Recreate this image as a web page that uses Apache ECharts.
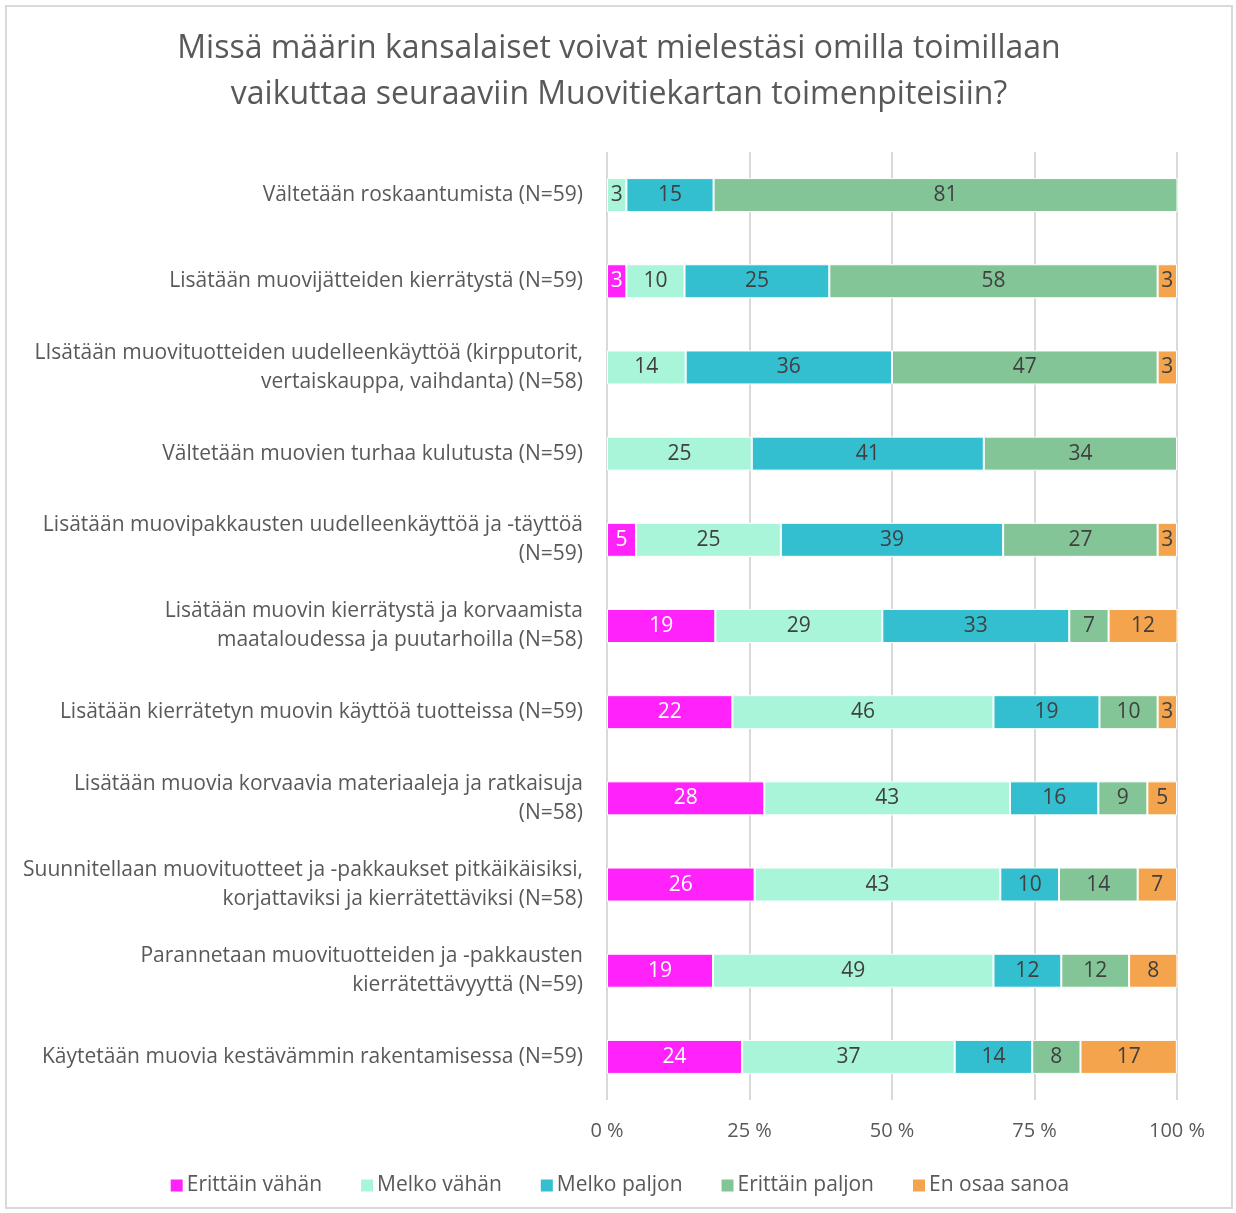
<!DOCTYPE html>
<html>
<head>
<meta charset="utf-8">
<script src="https://cdn.jsdelivr.net/npm/echarts@6/dist/echarts.min.js"></script>
<style>
  html, body { margin: 0; padding: 0; background: #fff; }
  #chartDiv { position: absolute; left: 5px; top: 5px; width: 1228px; height: 1204px; border: 2px solid #d9d9d9; box-sizing: border-box; }
</style>
</head>
<body>
<div id="chartDiv"></div>
<script type="text/javascript">
  // questions, top to bottom
  var categories = [
    "Vältetään roskaantumista (N=59)",
    "Lisätään muovijätteiden kierrätystä (N=59)",
    "LIsätään muovituotteiden uudelleenkäyttöä (kirpputorit,\nvertaiskauppa, vaihdanta) (N=58)",
    "Vältetään muovien turhaa kulutusta (N=59)",
    "Lisätään muovipakkausten uudelleenkäyttöä ja -täyttöä\n(N=59)",
    "Lisätään muovin kierrätystä ja korvaamista\nmaataloudessa ja puutarhoilla (N=58)",
    "Lisätään kierrätetyn muovin käyttöä tuotteissa (N=59)",
    "Lisätään muovia korvaavia materiaaleja ja ratkaisuja\n(N=58)",
    "Suunnitellaan muovituotteet ja -pakkaukset pitkäikäisiksi,\nkorjattaviksi ja kierrätettäviksi (N=58)",
    "Parannetaan muovituotteiden ja -pakkausten\nkierrätettävyyttä (N=59)",
    "Käytetään muovia kestävämmin rakentamisessa (N=59)"
  ];

  // shares in percent (labels show them rounded)
  var erittainVahan = [null, 3.4, null, null, 5.1, 19.0, 22.0, 27.6, 25.9, 18.6, 23.7];
  var melkoVahan    = [3.4, 10.2, 13.8, 25.4, 25.4, 29.3, 45.8, 43.1, 43.1, 49.2, 37.3];
  var melkoPaljon   = [15.3, 25.4, 36.2, 40.7, 39.0, 32.8, 18.6, 15.5, 10.3, 11.9, 13.6];
  var erittainPaljon = [81.4, 57.6, 46.6, 33.9, 27.1, 6.9, 10.2, 8.6, 13.8, 11.9, 8.47];
  var enOsaaSanoa   = [null, 3.4, 3.4, null, 3.4, 12.1, 3.4, 5.2, 6.9, 8.47, 16.9];

  var xTicks = [0, 25, 50, 75, 100];

  var fontName = "'Open Sans', 'Noto Sans', sans-serif";
  var textGray = '#595959';

  function makeSeries(name, data, color, labelColor) {
    return {
      name: name,
      type: 'bar',
      stack: 'total',
      data: data,
      barWidth: 34,
      itemStyle: { color: color, borderColor: '#ffffff', borderWidth: 1 },
      label: {
        show: true,
        position: 'inside',
        color: labelColor,
        fontFamily: fontName,
        fontSize: 21,
        formatter: function (p) {
          return p.value == null ? '' : Math.round(p.value) + '';
        }
      },
      emphasis: { disabled: true }
    };
  }

  var myChart = echarts.init(document.getElementById('chartDiv'), null, { renderer: 'canvas' });

  var option = {
    animation: false,
    textStyle: { fontFamily: fontName },
    title: {
      text: 'Missä määrin kansalaiset voivat mielestäsi omilla toimillaan\nvaikuttaa seuraaviin Muovitiekartan toimenpiteisiin?',
      left: 'center',
      top: 14,
      textStyle: { color: textGray, fontSize: 32, fontWeight: 'normal', lineHeight: 46, fontFamily: fontName }
    },
    legend: {
      bottom: 6,
      left: 'center',
      itemWidth: 14,
      itemHeight: 14,
      itemGap: 37,
      icon: 'rect',
      textStyle: { color: textGray, fontSize: 21, fontFamily: fontName, padding: [0, 0, 0, -2] },
      data: ['Erittäin vähän', 'Melko vähän', 'Melko paljon', 'Erittäin paljon', 'En osaa sanoa']
    },
    grid: {
      left: 600,
      right: 54,
      top: 145,
      bottom: 107,
      containLabel: false
    },
    xAxis: {
      type: 'value',
      min: 0,
      max: 100,
      interval: 25,
      axisLine: { show: false },
      axisTick: { show: false },
      splitLine: { lineStyle: { color: '#d9d9d9', width: 2 } },
      axisLabel: {
        color: textGray,
        fontSize: 20,
        margin: 21,
        fontFamily: fontName,
        customValues: xTicks,
        formatter: function (v) { return v + ' %'; }
      }
    },
    yAxis: {
      type: 'category',
      inverse: true,
      data: categories,
      axisLine: { show: false },
      axisTick: { show: false },
      axisLabel: {
        color: textGray,
        fontSize: 21,
        lineHeight: 29,
        margin: 24,
        align: 'right',
        fontFamily: fontName
      }
    },
    series: [
      makeSeries('Erittäin vähän', erittainVahan, '#ff22fb', '#ffffff'),
      makeSeries('Melko vähän', melkoVahan, '#a9f5da', '#404040'),
      makeSeries('Melko paljon', melkoPaljon, '#33bfcf', '#404040'),
      makeSeries('Erittäin paljon', erittainPaljon, '#84c597', '#404040'),
      makeSeries('En osaa sanoa', enOsaaSanoa, '#f4a44c', '#404040')
    ]
  };

  myChart.setOption(option);
</script>
</body>
</html>
